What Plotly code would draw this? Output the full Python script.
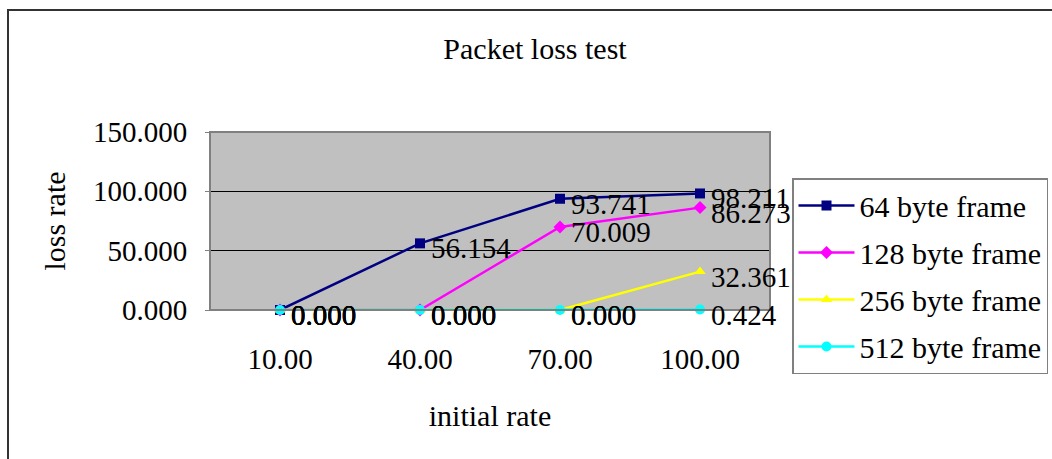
import plotly.graph_objects as go

# Packet loss measurements per frame size
initial_rate = ["10.00", "40.00", "70.00", "100.00"]
loss_64 = [0.000, 56.154, 93.741, 98.211]
loss_128 = [0.000, 0.000, 70.009, 86.273]
loss_256 = [0.000, 0.000, 0.000, 32.361]
loss_512 = [0.000, 0.000, 0.000, 0.424]

series = [
    ("64 byte frame", loss_64, "#000080", "square"),
    ("128 byte frame", loss_128, "#FF00FF", "diamond"),
    ("256 byte frame", loss_256, "#FFFF00", "triangle-up"),
    ("512 byte frame", loss_512, "#00FFFF", "circle"),
]

FONT = "Liberation Serif"
W, H = 1052, 459
L, R, T, B = 210, 770, 132, 310  # plot area in pixels


def px(x):
    return (x - L) / (R - L)


def py(y):
    return (B - y) / (B - T)


fig = go.Figure()
annotations = []
for i, (name, vals, color, symbol) in enumerate(series):
    fig.add_trace(go.Scatter(
        x=initial_rate, y=vals, name=name,
        mode="lines+markers",
        line=dict(color=color, width=2.5),
        marker=dict(color=color, symbol=symbol, size=10),
        legendgroup=f"g{i}",
        cliponaxis=False,
    ))
    # value labels beside each point (category axis: position by index)
    for j, v in enumerate(vals):
        annotations.append(dict(
            x=j, y=v, xref="x", yref="y", text=f"{v:.3f}",
            showarrow=False, xanchor="left", yanchor="middle",
            xshift=9, yshift=-5,
            font=dict(family=FONT, size=29, color="black"),
        ))

fig.update_layout(
    width=W, height=H,
    margin=dict(l=L, r=W - R, t=T, b=H - B),
    paper_bgcolor="white",
    plot_bgcolor="#C0C0C0",
    font=dict(family=FONT, size=29, color="black"),
    title=dict(text="Packet loss test", x=px(535), xref="paper", xanchor="center",
               y=1 - 48 / H, yanchor="middle", font=dict(family=FONT, size=30)),
    showlegend=True,
    legend=dict(xref="container", yref="container",
                x=792 / W, y=1 - 178 / H, xanchor="left", yanchor="top",
                bgcolor="white", bordercolor="#808080", borderwidth=1.5,
                font=dict(family=FONT, size=30), tracegroupgap=5,
                itemwidth=56, maxheight=420),
    annotations=annotations,
    xaxis=dict(
        type="category", range=[-0.5, 3.5],
        showgrid=False, zeroline=False, showline=False,
        ticks="", ticklabelstandoff=29,
        tickfont=dict(family=FONT, size=29),
        title=dict(text="initial rate", standoff=30, font=dict(family=FONT, size=30)),
    ),
    yaxis=dict(
        range=[0, 150], tickvals=[0, 50, 100, 150], tickformat=".3f",
        showgrid=True, gridcolor="black", gridwidth=1,
        zeroline=False, showline=False,
        ticks="outside", ticklen=4, tickcolor="#808080",
        ticklabelstandoff=12,
        tickfont=dict(family=FONT, size=29),
        title=dict(text="loss rate", standoff=18, font=dict(family=FONT, size=30)),
    ),
    shapes=[
        # plot area frame
        dict(type="rect", xref="paper", yref="paper", x0=0, x1=1, y0=0, y1=1,
             line=dict(color="#808080", width=2), layer="above"),
        # baseline at zero
        dict(type="line", xref="paper", yref="paper", x0=0, x1=1, y0=0, y1=0,
             line=dict(color="black", width=2), layer="below"),
        # outer chart border
        dict(type="rect", xref="paper", yref="paper",
             x0=px(8), x1=px(1070), y0=py(480), y1=py(10),
             line=dict(color="#333333", width=2), layer="below"),
    ],
)

fig.write_html("out.html")
